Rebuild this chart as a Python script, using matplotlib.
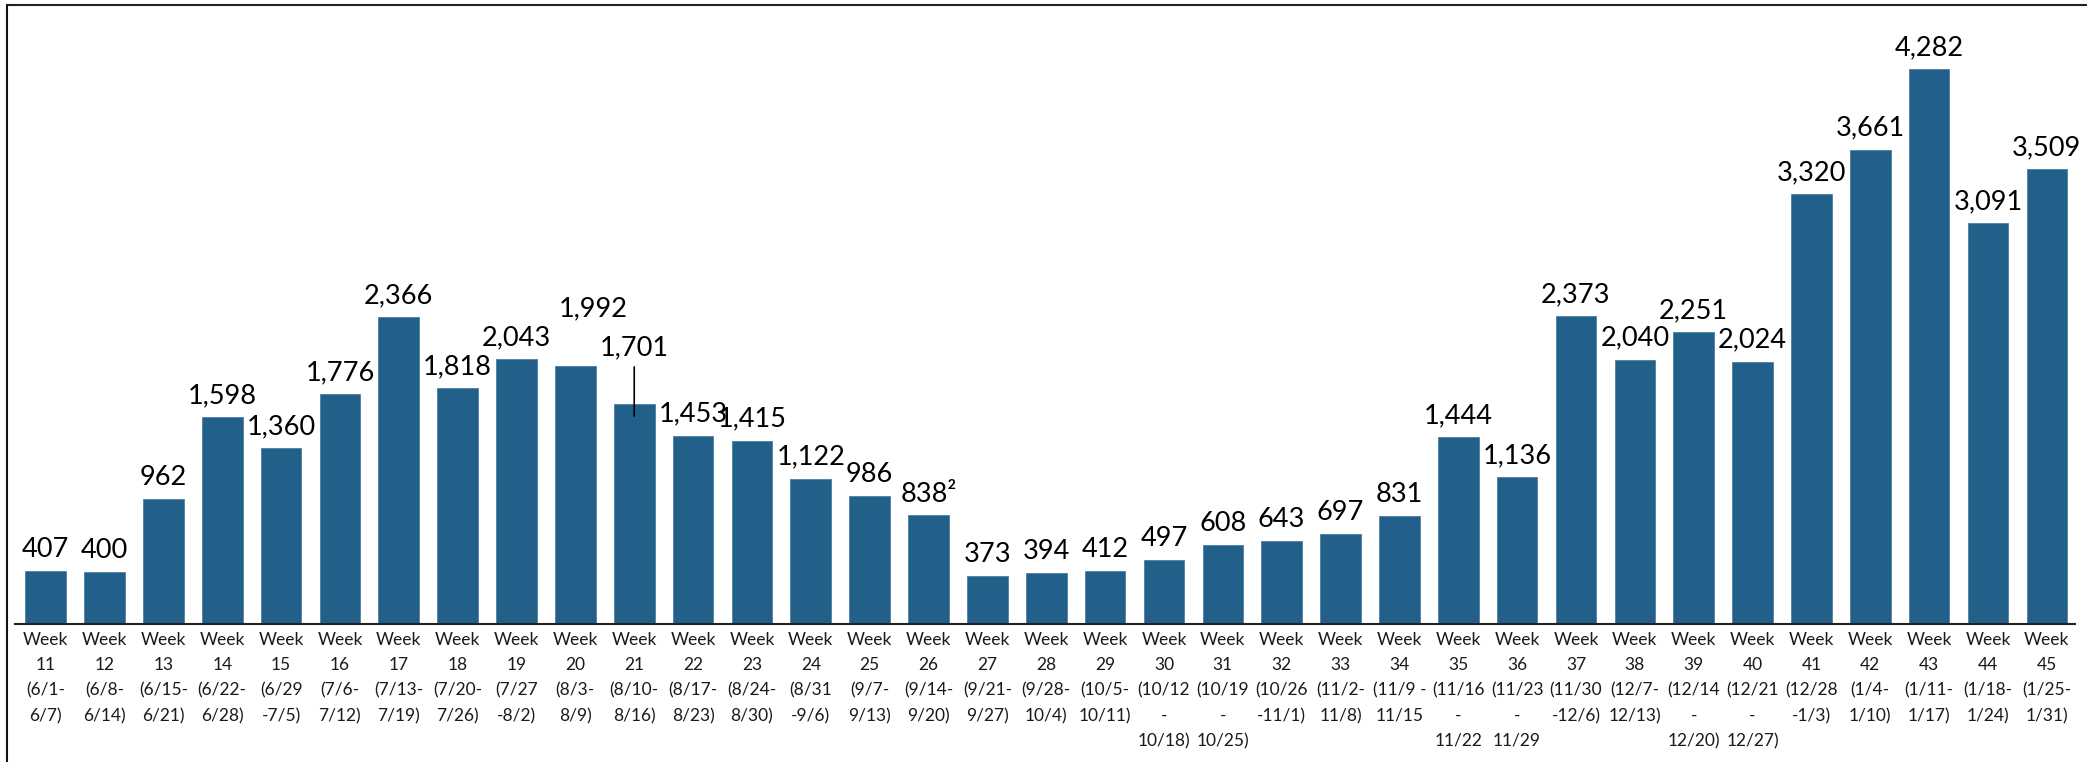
import matplotlib.pyplot as plt
from matplotlib.lines import Line2D
from matplotlib.transforms import offset_copy

plt.rcParams['font.family'] = ['Lato', 'DejaVu Sans']

# weekly counts, week 11 .. week 45
weeks = list(range(11, 46))
date_ranges = [
    "(6/1-\n6/7)", "(6/8-\n6/14)", "(6/15-\n6/21)", "(6/22-\n6/28)", "(6/29\n-7/5)",
    "(7/6-\n7/12)", "(7/13-\n7/19)", "(7/20-\n7/26)", "(7/27\n-8/2)", "(8/3-\n8/9)",
    "(8/10-\n8/16)", "(8/17-\n8/23)", "(8/24-\n8/30)", "(8/31\n-9/6)", "(9/7-\n9/13)",
    "(9/14-\n9/20)", "(9/21-\n9/27)", "(9/28-\n10/4)", "(10/5-\n10/11)", "(10/12\n-\n10/18)",
    "(10/19\n-\n10/25)", "(10/26\n-11/1)", "(11/2-\n11/8)", "(11/9 -\n11/15", "(11/16\n-\n11/22",
    "(11/23\n-\n11/29", "(11/30\n-12/6)", "(12/7-\n12/13)", "(12/14\n-\n12/20)", "(12/21\n-\n12/27)",
    "(12/28\n-1/3)", "(1/4-\n1/10)", "(1/11-\n1/17)", "(1/18-\n1/24)", "(1/25-\n1/31)",
]
counts = [407, 400, 962, 1598, 1360, 1776, 2366, 1818, 2043, 1992,
          1701, 1453, 1415, 1122, 986, 838, 373, 394, 412, 497,
          608, 643, 697, 831, 1444, 1136, 2373, 2040, 2251, 2024,
          3320, 3661, 4282, 3091, 3509]
footnotes = {26: "2"}   # week 26 carries footnote 2
raised_week = 20        # label pushed up/right to clear its neighbour
leader_week = 21        # label lifted with a leader line

BAR_COLOR = "#22608a"
LABEL_SIZE = 19.5

fig = plt.figure(figsize=(20.87, 7.62), dpi=100)
ax = fig.add_axes([0.0072, 0.1811, 0.9871, 0.8137])

x = list(range(len(weeks)))
ax.bar(x, counts, width=0.69, color=BAR_COLOR, edgecolor="#4f7fa3", linewidth=0.6)

for i, (wk, v) in enumerate(zip(weeks, counts)):
    txt = f"{v:,}"
    if wk in footnotes:
        txt += "\u00b2"
    if wk == leader_week:
        trans = offset_copy(ax.transData, fig=fig, y=-9, units="points")
        ax.annotate(txt, xy=(i, v), xycoords=trans, xytext=(0, 44), textcoords="offset points",
                    ha="center", va="baseline", fontsize=LABEL_SIZE, color="black",
                    arrowprops=dict(arrowstyle="-", color="black", lw=1.2,
                                    relpos=(0.5, 0), shrinkA=3, shrinkB=0))
    elif wk == raised_week:
        ax.annotate(txt, xy=(i, v), xytext=(13, 36), textcoords="offset points",
                    ha="center", va="baseline", fontsize=LABEL_SIZE, color="black")
    else:
        ax.annotate(txt, xy=(i, v), xytext=(0, 10), textcoords="offset points",
                    ha="center", va="baseline", fontsize=LABEL_SIZE, color="black")

ax.set_xlim(-0.52, len(weeks) - 0.52)
ax.set_ylim(0, 4784)
ax.set_xticks(x)
ax.set_xticklabels([f"Week\n{w}\n{d}" for w, d in zip(weeks, date_ranges)],
                   fontsize=12.5, linespacing=1.7, va="top", color="#1a1a1a")
ax.tick_params(axis="x", length=0, pad=6)
ax.set_yticks([])
for s in ["top", "right", "left"]:
    ax.spines[s].set_visible(False)
ax.spines["bottom"].set_color("#222222")
ax.spines["bottom"].set_linewidth(1.5)

# outer frame (left and top edges)
fig.add_artist(Line2D([7 / 2087, 7 / 2087], [0, 1 - 5 / 762], transform=fig.transFigure,
                      color="#111111", lw=1.5))
fig.add_artist(Line2D([7 / 2087, 1], [1 - 5 / 762, 1 - 5 / 762], transform=fig.transFigure,
                      color="#222222", lw=1.5))

fig.savefig("out.png", dpi=100)
plt.close(fig)
